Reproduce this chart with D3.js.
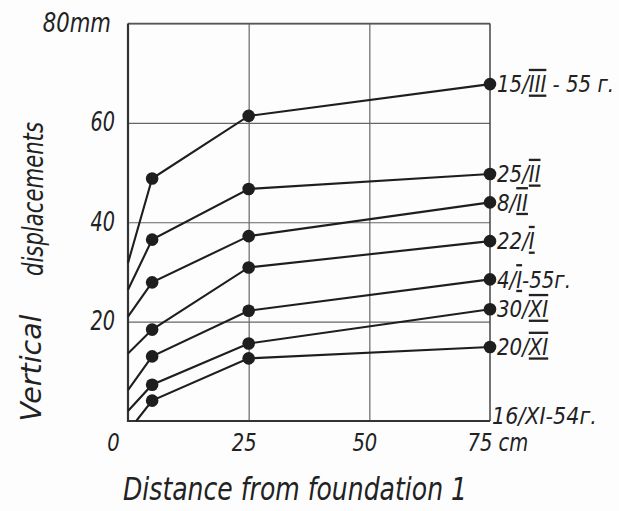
<!DOCTYPE html>
<html>
<head>
<meta charset="utf-8">
<script src="https://cdn.jsdelivr.net/npm/d3@7"></script>
<style>
body { margin: 0; background: #fdfdfd; }
text { font-family: "DejaVu Sans", sans-serif; font-style: italic; fill: #222; }
</style>
</head>
<body>
<div id="chart"></div>
<script>
const width = 619
const height = 511

// data read from the plate
const dates = ["15", "25", "8", "22", "4", "30", "20"]
const months = ["III", "II", "II", "I", "I", "XI", "XI"]
const years = [" - 55 г.", "", "", "", "-55г.", "", ""]
const startX = [0, 0, 0, 0, 0, 0, 1.7]
const startY = [31.8, 26.4, 21.0, 13.6, 6.2, 2.0, 0]
const valuesAt5 = [48.8, 36.5, 27.9, 18.4, 13.0, 7.3, 4.1]
const valuesAt25 = [61.4, 46.7, 37.2, 30.9, 22.2, 15.6, 12.6]
const valuesAt75 = [67.8, 49.7, 44.0, 36.2, 28.5, 22.5, 14.9]
const distances = [5, 25, 75]
const xTicks = [0, 25, 50, 75]
const yTicks = [20, 40, 60, 80]
const baseLabel = "16/XI-54г."

const plotLeft = 128, plotRight = 490, plotTop = 23.5, plotBottom = 421

const svg = d3.select("#chart")
    .append("svg")
    .attr("width", width)
    .attr("height", height)

const x = d3.scaleLinear().domain([0, 75]).range([plotLeft, plotRight])
const y = d3.scaleLinear().domain([0, 80]).range([plotBottom, plotTop])

// squeeze text a bit, the lettering is narrow
function condense(sel, k) {
    sel.each(function () {
        const w = this.getComputedTextLength()
        d3.select(this).attr("textLength", w * k).attr("lengthAdjust", "spacingAndGlyphs")
    })
}

// horizontal grid + y labels
const yAxis = svg.append("g")
    .attr("transform", `translate(${plotLeft},0)`)
    .call(d3.axisLeft(y).tickValues(yTicks).tickSize(-(plotRight - plotLeft)).tickPadding(13)
        .tickFormat(d => d === 80 ? "80mm" : d))
yAxis.select(".domain").remove()
yAxis.selectAll(".tick line").attr("stroke", "#666").attr("stroke-width", 1.2)
yAxis.selectAll(".tick text").attr("font-size", 26).attr("dy", "0.3em")
    .call(condense, 0.74)
yAxis.selectAll(".tick").filter(d => d === 80).select("text").attr("dx", -4)
    .call(condense, 1.1)

// vertical grid + x labels
const xAxis = svg.append("g")
    .attr("transform", `translate(0,${plotBottom})`)
    .call(d3.axisBottom(x).tickValues(xTicks).tickSize(-(plotBottom - plotTop)).tickPadding(11)
        .tickFormat(d => d === 75 ? "75 cm" : d))
xAxis.select(".domain").remove()
xAxis.selectAll(".tick line").attr("stroke", "#666").attr("stroke-width", 1.2)
    .filter(d => d === 0 || d === 75).remove()
xAxis.selectAll(".tick text").attr("font-size", 25).attr("dy", "0.75em")
    .attr("dx", d => d === 0 ? -15 : -5)
xAxis.selectAll(".tick").filter(d => d === 75).select("text")
    .attr("text-anchor", "start").attr("dx", -23)
xAxis.selectAll(".tick text").call(condense, 0.78)

// frame
svg.append("line").attr("x1", plotLeft).attr("x2", plotRight).attr("y1", plotTop).attr("y2", plotTop)
    .attr("stroke", "#555").attr("stroke-width", 1.3)
svg.append("line").attr("x1", plotRight).attr("x2", plotRight).attr("y1", plotTop).attr("y2", plotBottom)
    .attr("stroke", "#444").attr("stroke-width", 1.5)
svg.append("line").attr("x1", plotLeft).attr("x2", plotLeft).attr("y1", plotTop).attr("y2", plotBottom + 1)
    .attr("stroke", "#333").attr("stroke-width", 2.2)
svg.append("line").attr("x1", plotLeft).attr("x2", plotRight).attr("y1", plotBottom).attr("y2", plotBottom)
    .attr("stroke", "#333").attr("stroke-width", 2.2)

// series
const series = dates.map((d, i) => ({
    start: [startX[i], startY[i]],
    marks: distances.map((dist, j) => [dist, [valuesAt5, valuesAt25, valuesAt75][j][i]]),
    date: d, month: months[i], year: years[i]
}))

const line = d3.line().x(d => x(d[0])).y(d => y(d[1]))

svg.append("g").selectAll("path")
    .data(series)
    .enter()
    .append("path")
    .attr("d", s => line([s.start].concat(s.marks)))
    .attr("fill", "none")
    .attr("stroke", "#1e1e1e")
    .attr("stroke-width", 2.1)

svg.append("g").selectAll("circle")
    .data(series.flatMap(s => s.marks))
    .enter()
    .append("circle")
    .attr("cx", d => x(d[0]))
    .attr("cy", d => y(d[1]))
    .attr("r", 6.3)
    .attr("fill", "#1e1e1e")

// labels at the right edge
const labels = svg.append("g").selectAll("text")
    .data(series)
    .enter()
    .append("text")
    .attr("transform", s => `translate(${plotRight + 7},${y(s.marks[2][1])}) scale(0.86,1)`)
    .attr("dy", "0.36em")
    .attr("font-size", 23)
labels.append("tspan").text(s => s.date + "/")
labels.append("tspan").text(s => s.month)
    .style("text-decoration", "underline overline")
labels.append("tspan").text(s => s.year)

svg.append("text")
    .attr("transform", `translate(${plotRight + 2},${y(0) - 5}) scale(0.9,1)`)
    .attr("dy", "0.36em")
    .attr("font-size", 23)
    .text(baseLabel)

// axis titles
svg.append("text")
    .attr("x", 123)
    .attr("y", 500)
    .attr("font-size", 32)
    .attr("textLength", 344)
    .attr("lengthAdjust", "spacingAndGlyphs")
    .text("Distance from foundation 1")

svg.append("text")
    .attr("transform", "translate(41,368) rotate(-90)")
    .attr("text-anchor", "middle")
    .attr("font-size", 29)
    .attr("textLength", 107)
    .attr("lengthAdjust", "spacingAndGlyphs")
    .text("Vertical")

svg.append("text")
    .attr("transform", "translate(43,199) rotate(-90)")
    .attr("text-anchor", "middle")
    .attr("font-size", 29)
    .attr("textLength", 154)
    .attr("lengthAdjust", "spacingAndGlyphs")
    .text("displacements")
</script>
</body>
</html>
